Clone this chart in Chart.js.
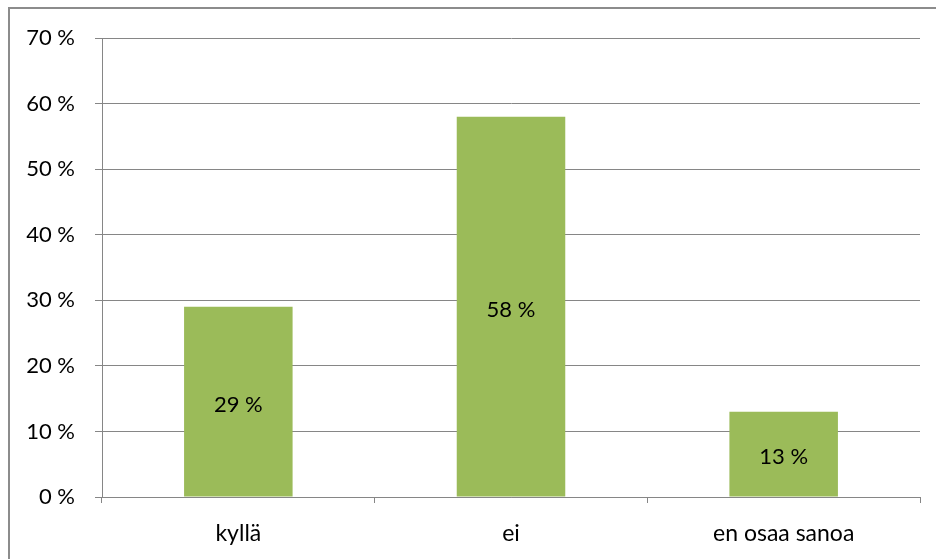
<!DOCTYPE html>
<html>
<head>
<meta charset="utf-8">
<script src="https://cdn.jsdelivr.net/npm/chart.js@4"></script>
<style>
  html, body { margin: 0; padding: 0; background: #fff; overflow: hidden; }
  #wrap { position: relative; width: 936px; height: 559px; }
  #frame { position: absolute; left: 8px; top: 7px; width: 1000px; height: 1000px;
           border: 2px solid #8c8c8c; box-sizing: border-box; pointer-events: none; }
</style>
</head>
<body>
<div id="wrap">
  <canvas id="answerChart" width="936" height="559"></canvas>
  <div id="frame"></div>
</div>
<script>
// vastausten jakauma
const categories = ['kyllä', 'ei', 'en osaa sanoa'];
const shares = [0.29, 0.58, 0.13];
const yTicks = [0, 0.1, 0.2, 0.3, 0.4, 0.5, 0.6, 0.7];

const FONT = "Lato, sans-serif";
const gridGrey = '#868686';

const pct = v => Math.round(v * 100) + ' %';

// arvot pylväiden keskelle
const barLabels = {
  id: 'barLabels',
  afterDatasetsDraw(chart) {
    const ctx = chart.ctx;
    const meta = chart.getDatasetMeta(0);
    ctx.save();
    ctx.font = '22px ' + FONT;
    ctx.fillStyle = '#000';
    ctx.textAlign = 'center';
    ctx.textBaseline = 'middle';
    meta.data.forEach((bar, i) => {
      const p = bar.getProps(['x', 'y', 'base'], true);
      ctx.fillText(pct(shares[i]), p.x, (p.y + p.base) / 2 + 3);
    });
    ctx.restore();
  }
};

const ctx = document.getElementById('answerChart').getContext('2d');
new Chart(ctx, {
  type: 'bar',
  data: {
    labels: categories,
    datasets: [{
      data: shares,
      backgroundColor: '#9bbb59',
      borderWidth: 0,
      categoryPercentage: 1,
      barPercentage: 0.398
    }]
  },
  options: {
    responsive: false,
    animation: false,
    layout: { padding: { top: 38, right: 16, left: 0, bottom: 0 } },
    plugins: { legend: { display: false }, tooltip: { enabled: false } },
    scales: {
      x: {
        offset: true,
        grid: { offset: true, drawOnChartArea: false, drawTicks: true, tickLength: 6, color: gridGrey },
        border: { display: true, color: gridGrey, width: 1 },
        ticks: { color: '#000', font: { family: FONT, size: 23 }, padding: 17 },
        afterFit: s => { s.height = 62; }
      },
      y: {
        min: 0,
        max: 0.7,
        afterBuildTicks: s => { s.ticks = yTicks.map(v => ({ value: v })); },
        grid: { color: gridGrey, tickLength: 7, drawTicks: true },
        border: { display: true, color: gridGrey, width: 1 },
        ticks: { color: '#000', font: { family: FONT, size: 22 }, padding: 20, callback: v => pct(v) },
        afterFit: s => { s.width = 102; }
      }
    }
  },
  plugins: [barLabels]
});
</script>
</body>
</html>
